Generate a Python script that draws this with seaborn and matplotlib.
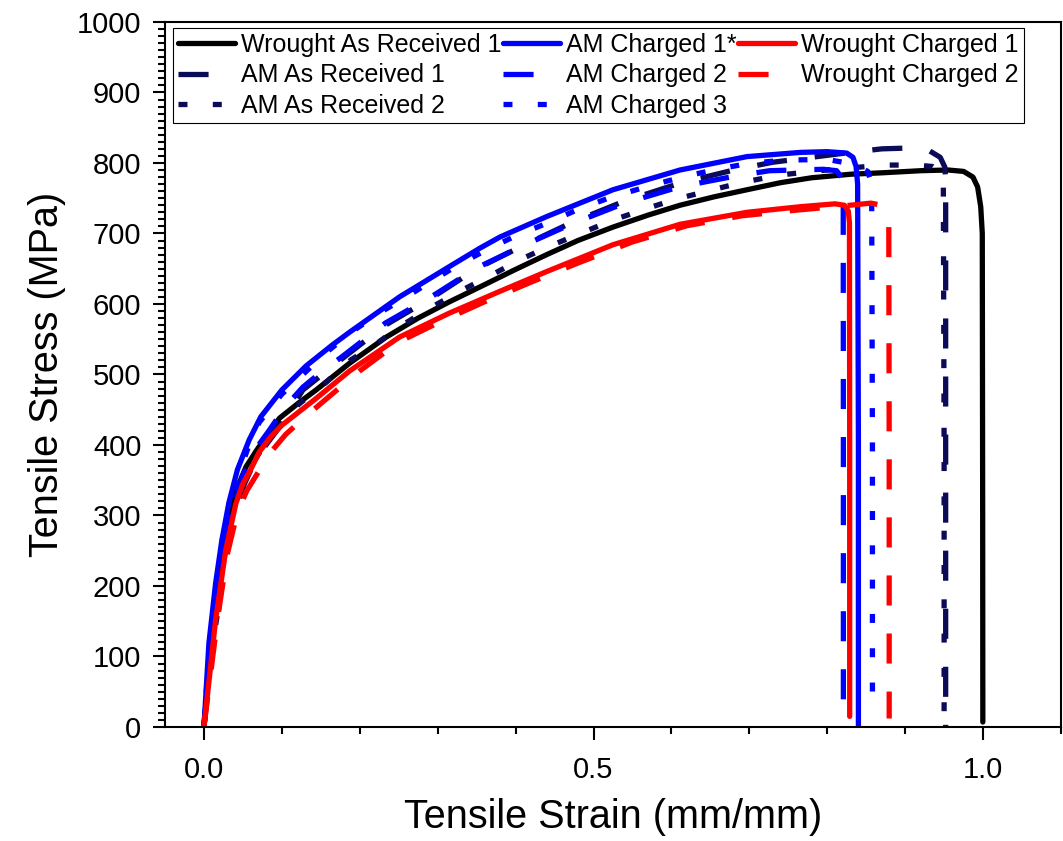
import matplotlib
matplotlib.use("Agg")
import matplotlib.pyplot as plt
import pandas as pd
import seaborn as sns
from matplotlib.ticker import MultipleLocator, FixedLocator

# ---------------- data ----------------
war1_strain = [0, 0.008, 0.015, 0.022, 0.032, 0.043, 0.054, 0.068, 0.08, 0.097, 0.122, 0.144,
               0.187, 0.234, 0.275, 0.315, 0.354, 0.40, 0.44, 0.48, 0.525, 0.57, 0.611, 0.655,
               0.697, 0.74, 0.78, 0.83, 0.87, 0.92, 0.955, 0.975, 0.987, 0.993, 0.997, 0.999,
               0.9995, 0.9997]
war1_stress = [0, 100, 175, 240, 298, 340, 369, 393, 412, 438, 460, 478,
               516, 553, 580, 603, 624, 649, 670, 690, 709, 726, 740, 752,
               762, 772, 779, 784, 786, 789, 790, 788, 780, 766, 738, 700,
               300, 7]

amar1_strain = [0, 0.008, 0.018, 0.027, 0.0386, 0.052, 0.068, 0.094, 0.127, 0.177, 0.233,
                0.293, 0.35, 0.41, 0.473, 0.54, 0.61, 0.68, 0.73, 0.78, 0.83, 0.87, 0.90,
                0.93, 0.945, 0.951, 0.952, 0.952, 0.952]
amar1_stress = [0, 90, 159, 254, 300, 345, 383, 421, 478, 522, 570,
                609, 650, 683, 716, 746, 771, 790, 801, 808, 815, 820, 821,
                818, 808, 794, 775, 400, 0]

amar2_strain = [0, 0.008, 0.018, 0.03, 0.04, 0.058, 0.08, 0.1, 0.122, 0.157, 0.189, 0.223,
                0.253, 0.293, 0.332, 0.369, 0.408, 0.444, 0.483, 0.525, 0.57, 0.607, 0.646,
                0.689, 0.74, 0.79, 0.83, 0.873, 0.914, 0.935, 0.945, 0.949, 0.950, 0.950]
amar2_stress = [0, 95, 165, 275, 320, 365, 405, 432, 458, 489, 521, 545,
                569, 596, 620, 641, 664, 682, 700, 719, 736, 749, 760,
                772, 783, 789, 793, 797, 797, 795, 788, 770, 400, 0]

amc1_strain = [0, 0.0064, 0.015, 0.023, 0.032, 0.043, 0.058, 0.073, 0.1, 0.131, 0.165, 0.187,
               0.251, 0.315, 0.354, 0.38, 0.44, 0.525, 0.611, 0.697, 0.766, 0.80, 0.825,
               0.833, 0.837, 0.839, 0.840, 0.840]
amc1_stress = [0, 119, 204, 265, 318, 365, 407, 440, 478, 512, 542, 560,
               610, 653, 679, 695, 724, 762, 790, 809, 815, 816, 814,
               808, 795, 770, 400, 0]

amc2_strain = [0, 0.008, 0.018, 0.032, 0.049, 0.065, 0.084, 0.105, 0.127, 0.15, 0.177, 0.233,
               0.293, 0.35, 0.41, 0.473, 0.54, 0.61, 0.68, 0.726, 0.76, 0.795, 0.812, 0.818,
               0.8205, 0.8207, 0.8207]
amc2_stress = [0, 105, 200, 290, 355, 392, 421, 455, 482, 503, 525, 573,
               611, 651, 683, 714, 743, 766, 781, 789, 790, 791, 789, 780,
               755, 400, 0]

amc3_strain = [0, 0.007, 0.016, 0.025, 0.034, 0.045, 0.058, 0.071, 0.1, 0.158, 0.189, 0.228,
               0.26, 0.29, 0.326, 0.363, 0.403, 0.437, 0.478, 0.519, 0.57, 0.614, 0.654,
               0.697, 0.744, 0.80, 0.835, 0.852, 0.857, 0.858, 0.858]
amc3_stress = [0, 115, 200, 265, 315, 360, 400, 432, 472, 532, 560, 589,
               610, 631, 655, 677, 698, 713, 733, 750, 767, 780, 790,
               799, 804, 805, 798, 788, 770, 400, 15]

wc1_strain = [0, 0.007, 0.015, 0.028, 0.041, 0.05, 0.06, 0.071, 0.086, 0.1, 0.122, 0.144,
              0.187, 0.251, 0.315, 0.38, 0.44, 0.525, 0.611, 0.697, 0.766, 0.81, 0.822,
              0.827, 0.8285, 0.8288, 0.8288]
wc1_stress = [0, 70, 152, 251, 317, 345, 365, 390, 412, 428, 447, 466,
              505, 553, 587, 618, 646, 684, 713, 730, 738, 742, 740,
              732, 715, 400, 15]

wc2_strain = [0, 0.008, 0.017, 0.03, 0.043, 0.055, 0.07, 0.086, 0.105, 0.13, 0.16, 0.2,
              0.25, 0.3, 0.36, 0.42, 0.48, 0.55, 0.62, 0.69, 0.76, 0.82, 0.856, 0.87,
              0.876, 0.879, 0.8795, 0.8795]
wc2_stress = [0, 70, 150, 245, 305, 335, 362, 390, 415, 440, 468, 505,
              546, 573, 603, 631, 658, 688, 711, 725, 733, 739, 743, 740,
              730, 715, 400, 12]

labels = ["Wrought As Received 1", "AM As Received 1", "AM As Received 2",
          "AM Charged 1*", "AM Charged 2", "AM Charged 3",
          "Wrought Charged 1", "Wrought Charged 2"]

x_major = [0.0, 0.5, 1.0]
x_major_labels = ["0.0", "0.5", "1.0"]

# ---------------- styling ----------------
NAVY = "#0b0b58"
BLUE = "#0000ff"
RED = "#ff0000"
BLACK = "#000000"
SOLID = "-"
DASH = (0, (5.7, 5.3))
DOT = (0, (1.7, 4.8))
LW = 3.8

series = [
    (war1_strain, war1_stress, BLACK, SOLID),
    (amar1_strain, amar1_stress, NAVY, DASH),
    (amar2_strain, amar2_stress, NAVY, DOT),
    (amc1_strain, amc1_stress, BLUE, SOLID),
    (amc2_strain, amc2_stress, BLUE, DASH),
    (amc3_strain, amc3_stress, BLUE, DOT),
    (wc1_strain, wc1_stress, RED, SOLID),
    (wc2_strain, wc2_stress, RED, DASH),
]

sns.set_style("ticks")
plt.rcParams['font.family'] = ['Liberation Sans', 'DejaVu Sans']
plt.rcParams['axes.linewidth'] = 1.5
for key in ["text.color", "axes.labelcolor", "xtick.color", "ytick.color", "axes.edgecolor"]:
    plt.rcParams[key] = "black"

fig = plt.figure(figsize=(10.63, 8.41), dpi=100)
ax = fig.add_axes([0.1552, 0.1356, 0.8429, 0.8383])

for (sx, sy, col, ls), lab in zip(series, labels):
    df = pd.DataFrame({"strain": sx, "stress": sy})
    sns.lineplot(data=df, x="strain", y="stress", ax=ax, sort=False, estimator=None,
                 color=col, linestyle=ls, linewidth=LW, label=lab)

ax.set_xlim(-0.05, 1.1)
ax.set_ylim(0, 1000)
ax.xaxis.set_major_locator(FixedLocator(x_major))
ax.set_xticklabels(x_major_labels)
ax.xaxis.set_minor_locator(MultipleLocator(0.1))
ax.yaxis.set_major_locator(MultipleLocator(100))
ax.yaxis.set_minor_locator(MultipleLocator(10))

for sp in ax.spines.values():
    sp.set_visible(True)
    sp.set_linewidth(1.5)
    sp.set_color("black")

ax.tick_params(axis="both", which="major", direction="out", length=9, width=1.5,
               labelsize=21, color="black", labelcolor="black", top=False, right=False)
ax.tick_params(axis="both", which="minor", direction="out", length=5, width=1.5,
               color="black", top=False, right=False)
ax.tick_params(axis="x", which="major", pad=12)
ax.tick_params(axis="y", which="major", pad=8)

ax.set_xlabel("Tensile Strain (mm/mm)", fontsize=28.5, labelpad=10, color="black")
ax.set_ylabel("Tensile Stress (MPa)", fontsize=28.5, labelpad=8, color="black")

handles, labs = ax.get_legend_handles_labels()
leg = ax.legend(handles, labs, ncol=3, loc="upper left", bbox_to_anchor=(0.0089, 0.9915),
                frameon=True, fancybox=False, framealpha=1, edgecolor="black",
                fontsize=18, handlelength=2.28, handletextpad=0.25, columnspacing=0.05,
                labelspacing=0.26, borderpad=0.2, borderaxespad=0)
leg.get_frame().set_linewidth(0.8)
for t in leg.get_texts():
    t.set_color("black")

fig.savefig("out.png", dpi=100)
